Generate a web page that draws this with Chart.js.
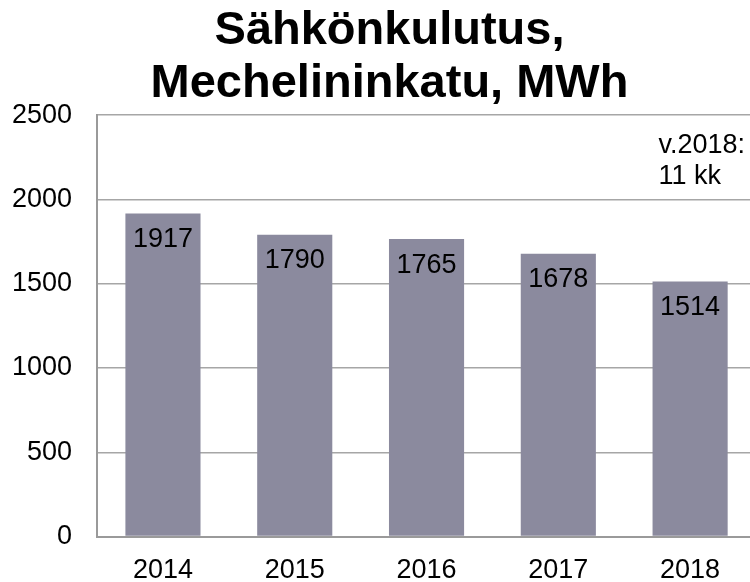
<!DOCTYPE html>
<html>
<head>
<meta charset="utf-8">
<script src="https://cdn.jsdelivr.net/npm/chart.js@4/dist/chart.umd.min.js"></script>
<style>
  html, body { margin: 0; padding: 0; background: #ffffff; overflow: hidden; }
  #wrap { width: 750px; height: 582px; position: relative; }
</style>
</head>
<body>
<div id="wrap"><canvas id="c"></canvas></div>
<script>
const categories = ['2014', '2015', '2016', '2017', '2018'];
const consumption = [1917, 1790, 1765, 1678, 1514];
const yTicks = [0, 500, 1000, 1500, 2000, 2500];
const titleLines = ['Sähkönkulutus,', 'Mechelininkatu, MWh'];
const noteLines = ['v.2018:', '11 kk'];
const noteValues = [2319, 2133];

const FONT = "'Liberation Sans', Arial, Helvetica, sans-serif";

const valueLabels = {
  id: 'valueLabels',
  afterDatasetsDraw(chart) {
    const ctx = chart.ctx;
    const meta = chart.getDatasetMeta(0);
    ctx.save();
    ctx.font = '27px ' + FONT;
    ctx.fillStyle = '#000000';
    ctx.textAlign = 'center';
    ctx.textBaseline = 'middle';
    meta.data.forEach((bar, i) => {
      ctx.fillText(String(consumption[i]), bar.x, bar.y + 26);
    });
    ctx.restore();
  }
};

const note = {
  id: 'note',
  afterDraw(chart) {
    const ctx = chart.ctx;
    const xs = chart.scales.x;
    const ys = chart.scales.y;
    const step = xs.getPixelForValue(1) - xs.getPixelForValue(0);
    const x = xs.getPixelForValue(categories.length - 1) - 0.24 * step;
    ctx.save();
    ctx.font = '27px ' + FONT;
    ctx.fillStyle = '#000000';
    ctx.textAlign = 'left';
    ctx.textBaseline = 'middle';
    noteLines.forEach((t, i) => ctx.fillText(t, x, ys.getPixelForValue(noteValues[i])));
    ctx.restore();
  }
};

// The plot area of the original runs slightly past the right edge of the picture.
const layoutTweaks = {
  id: 'layoutTweaks',
  afterLayout(chart) {
    const t = chart.titleBlock;
    if (t) { t.left += 21; t.right += 21; }
    const xs = chart.scales.x;
    const extra = 6;
    xs.right += extra;
    xs.width += extra;
    xs.configure();
    chart.chartArea.right += extra;
    chart.chartArea.width += extra;
  }
};

new Chart(document.getElementById('c'), {
  type: 'bar',
  data: {
    labels: categories,
    datasets: [{
      data: consumption,
      backgroundColor: '#8b8a9e',
      borderWidth: 0,
      categoryPercentage: 1,
      barPercentage: 0.57
    }]
  },
  options: {
    responsive: true,
    maintainAspectRatio: false,
    animation: false,
    layout: { padding: { left: -13, right: 0, top: 0, bottom: -23 } },
    plugins: {
      legend: { display: false },
      tooltip: { enabled: false },
      title: {
        display: true,
        text: titleLines,
        color: '#000000',
        font: { family: FONT, size: 47, weight: 'bold', lineHeight: 1.14 },
        padding: { top: 4, bottom: 4 }
      }
    },
    scales: {
      x: {
        grid: { display: false, drawTicks: false },
        border: { display: true, color: '#9a9a9a', width: 2 },
        ticks: { color: '#000000', font: { family: FONT, size: 27 }, padding: 18, maxRotation: 0 }
      },
      y: {
        min: 0,
        max: 2500,
        afterBuildTicks(axis) { axis.ticks = yTicks.map(v => ({ value: v })); },
        grid: { color: '#a6a6a6', lineWidth: 1.5, drawTicks: false },
        border: { display: true, color: '#9a9a9a', width: 2 },
        ticks: { color: '#000000', font: { family: FONT, size: 27 }, padding: 25, callback: v => String(v) }
      }
    }
  },
  plugins: [valueLabels, note, layoutTweaks]
});
</script>
</body>
</html>
